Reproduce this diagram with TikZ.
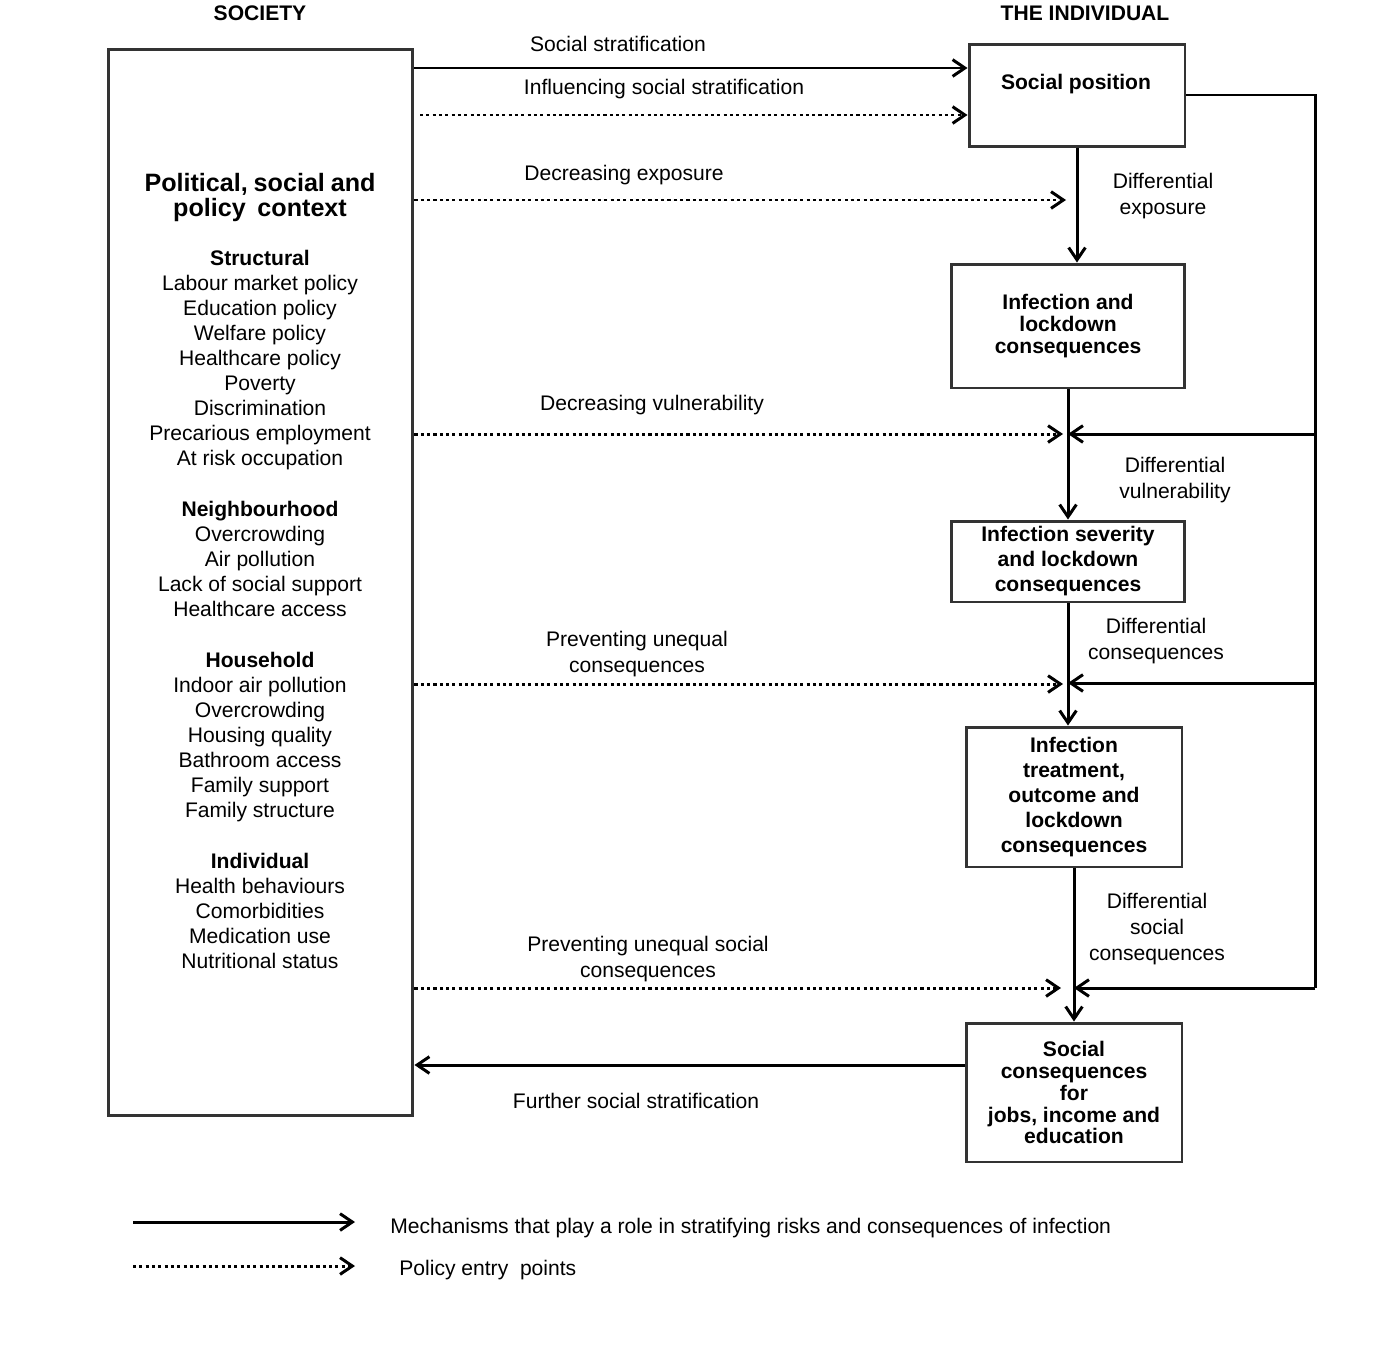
\documentclass[tikz,border=0pt]{standalone}
\usepackage{fontspec}
\setmainfont{Liberation Sans}
\usetikzlibrary{arrows.meta}
\definecolor{boxline}{HTML}{333333}
\tikzset{
  ln/.style={line width=1.7pt},
  arr/.style={ln, -{Straight Barb[length=7pt,width=9.5pt]}},
  dotarr/.style={arr, dash pattern=on 1.75pt off 1.85pt},
  box/.style={draw=boxline, line width=1.7pt, inner sep=0pt, align=center,
    font=\bfseries\fontsize{12}{12.5}\selectfont},
  boxw/.style={box, font=\bfseries\fontsize{12}{14.23}\selectfont},
  boxtext/.style={inner sep=0pt, align=center, font=\bfseries\fontsize{12}{12.5}\selectfont},
  lab/.style={align=center, inner sep=0pt, font=\fontsize{12}{14.8}\selectfont},
  head/.style={inner sep=0pt, font=\bfseries\fontsize{12}{14}\selectfont}
}
\begin{document}
\begin{tikzpicture}[x=0.02cm,y=-0.02cm]
\useasboundingbox (0,0) rectangle (1379,1356);

% headers
\node[head] (hsoc) at (260,13) {SOCIETY};
\node[head] (hind) at (1085,13) {THE INDIVIDUAL};

% boxes
\node[box, minimum width=6.1cm, minimum height=21.34cm] (ctx) at (260.5,582.5) {};
\node[box, minimum width=4.32cm, minimum height=2.06cm] (sp) at (1077,95.5) {};
\node[boxtext] (sptxt) at (1076,84) {Social position};
\node[box, minimum width=4.68cm, minimum height=2.48cm] (inf1) at (1068,326) {Infection and\\lockdown\\consequences};
\node[boxw, minimum width=4.68cm, minimum height=1.62cm] (sev) at (1068,561.5) {Infection severity\\and lockdown\\consequences};
\node[boxw, minimum width=4.32cm, minimum height=2.8cm] (treat) at (1074,797) {Infection\\treatment,\\outcome and\\lockdown\\consequences};
\node[box, minimum width=4.32cm, minimum height=2.78cm] (socc) at (1074,1092.5) {Social\\consequences\\for\\jobs, income and\\education};

% context text
\node[anchor=base, inner sep=0pt, text width=6cm, align=center] (ctxtxt) at (260,191) {%
\bfseries\fontsize{14.3}{14.23}\selectfont Political, social and\\
policy\ \ context\\[13.7pt]
\normalfont\fontsize{12}{14.23}\selectfont
{\bfseries Structural}\\
Labour market policy\\
Education policy\\
Welfare policy\\
Healthcare policy\\
Poverty\\
Discrimination\\
Precarious employment\\
At risk occupation\\[14.8pt]
{\bfseries Neighbourhood}\\
Overcrowding\\
Air pollution\\
Lack of social support\\
Healthcare access\\[14.8pt]
{\bfseries Household}\\
Indoor air pollution\\
Overcrowding\\
Housing quality\\
Bathroom access\\
Family support\\
Family structure\\[14.8pt]
{\bfseries Individual}\\
Health behaviours\\
Comorbidities\\
Medication use\\
Nutritional status\par};

% junction coordinates
\coordinate (ex) at (1066,200);
\coordinate (r0) at (1315,95);
\coordinate (r1) at (1315,434);
\coordinate (r2) at (1315,683);
\coordinate (r3) at (1315,988);
\coordinate (d1) at (1063,434);
\coordinate (d2) at (1063,684);
\coordinate (d3) at (1061,988);

% left-to-right arrows
\draw[arr] (ctx.east |- 0,68) -- (sp.west |- 0,68);
\draw[dotarr] (420,115) coordinate (i0) -- (sp.west |- i0);
\draw[dotarr] (ctx.east |- ex) -- (ex);
\draw[dotarr] (ctx.east |- d1) -- (d1);
\draw[dotarr] (ctx.east |- d2) -- (d2);
\draw[dotarr] (ctx.east |- d3) -- (d3);
\draw[arr] (socc.west |- 0,1065) -- (ctx.east |- 0,1065);

% main vertical chain
\draw[arr] (sp.south) -- (sp.south |- inf1.north);
\draw[arr] (inf1.south) -- (sev.north);
\draw[arr] (sev.south) -- (sev.south |- treat.north);
\draw[arr] (treat.south) -- (socc.north);

% feedback loop
\draw[ln] (sp.east |- r0) -- (r0) -- (r3);
\draw[arr] (r1) -- (inf1.south |- r1);
\draw[arr] (r2) -- (sev.south |- r2);
\draw[arr] (r3) -- (treat.south |- r3);

% labels
\node[lab] (l1) at (618,44) {Social stratification};
\node[lab] (l2) at (664,89) {Influencing social stratification};
\node[lab] (l3) at (624,175) {Decreasing exposure};
\node[lab] (l4) at (1163,196) {Differential\\exposure};
\node[lab] (l5) at (652,405) {Decreasing vulnerability};
\node[lab] (l6) at (1175,480) {Differential\\vulnerability};
\node[lab] (l7) at (637,654) {Preventing unequal\\consequences};
\node[lab] (l8) at (1156,641) {Differential\\consequences};
\node[lab] (l9) at (648,959) {Preventing unequal social\\consequences};
\node[lab] (l10) at (1157,929) {Differential\\social\\consequences};
\node[lab] (l11) at (636,1101) {Further social stratification};

% legend
\coordinate (la) at (133,1222);
\coordinate (lb) at (355,1222);
\coordinate (lc) at (133,1266);
\coordinate (ld) at (355,1266);
\draw[arr] (la) -- (lb);
\draw[dotarr] (lc) -- (ld);
\node[lab, anchor=west] (lt1) at (390,1228) {Mechanisms that play a role in stratifying risks and consequences of infection};
\node[lab, anchor=west] (lt2) at (399,1270) {Policy entry\ \ points};
\end{tikzpicture}
\end{document}
